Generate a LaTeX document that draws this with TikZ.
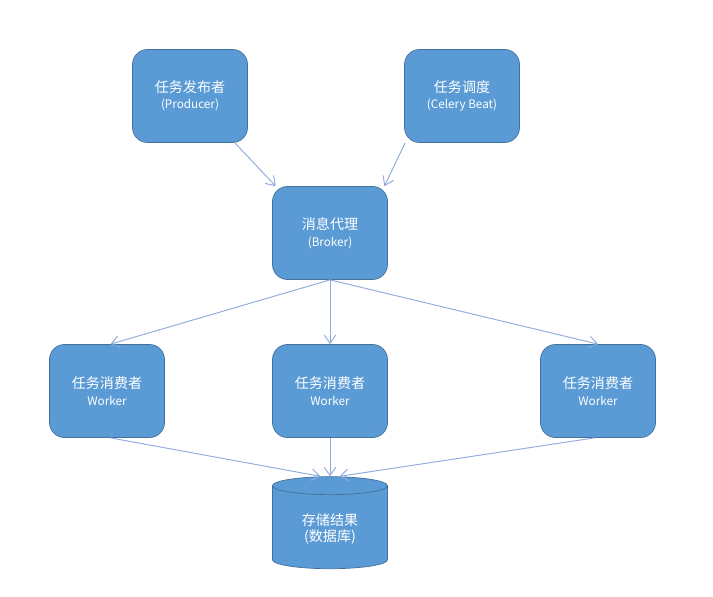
\documentclass[tikz,border=0pt]{standalone}
\usepackage{fontspec}
\setmainfont{Noto Sans CJK SC}
\usetikzlibrary{positioning,shapes.geometric,arrows.meta}
\definecolor{boxfill}{HTML}{5B9BD5}
\definecolor{boxline}{HTML}{41719C}
\definecolor{linkline}{HTML}{8FAADC}
\tikzset{
  task/.style={draw=boxline, fill=boxfill, rounded corners=0.45cm, text=white,
    minimum width=3.45cm, minimum height=2.79cm, align=center, font=\large, line width=0.6pt},
  store/.style={cylinder, shape border rotate=90, aspect=0.28, draw=boxline, fill=boxfill,
    text=white, minimum width=3.45cm, minimum height=2.76cm, align=center, font=\large, line width=0.6pt},
  link/.style={draw=linkline, line width=0.8pt, -{Straight Barb[length=2.5mm,width=3.5mm]}}
}
\begin{document}
\begin{tikzpicture}[x=0.03cm, y=-0.03cm]
  \useasboundingbox (0,0) rectangle (713,596);

  \node [task] (producer) at (190,96) {任务发布者\\{\normalsize (Producer)}};
  \node [task] (beat) at (462,96) {任务调度\\{\normalsize (Celery Beat)}};
  \node [task] (broker) at (330,233) {消息代理\\{\normalsize (Broker)}};
  \node [task] (workerA) at (107,391) {任务消费者\\{\normalsize Worker}};
  \node [task] (workerB) at (330,391) {任务消费者\\{\normalsize Worker}};
  \node [task] (workerC) at (598,391) {任务消费者\\{\normalsize Worker}};
  \node [store] (db) at (330,529) {存储结果\\(数据库)};

  \draw [link] (producer.south east) ++(-13,0) -- ([xshift=3]broker.north west);
  \draw [link] (beat.south west) ++(1,0) -- ([xshift=-3]broker.north east);
  \draw [link] (broker.south) -- ([xshift=3]workerA.north);
  \draw [link] (broker.south) -- (workerB.north);
  \draw [link] (broker.south) -- (workerC.north);
  \draw [link] ([xshift=3]workerA.south) -- ([xshift=-8]db.top);
  \draw [link] (workerB.south) -- (db.top);
  \draw [link] ([xshift=-3]workerC.south) -- ([xshift=8]db.top);
\end{tikzpicture}
\end{document}
